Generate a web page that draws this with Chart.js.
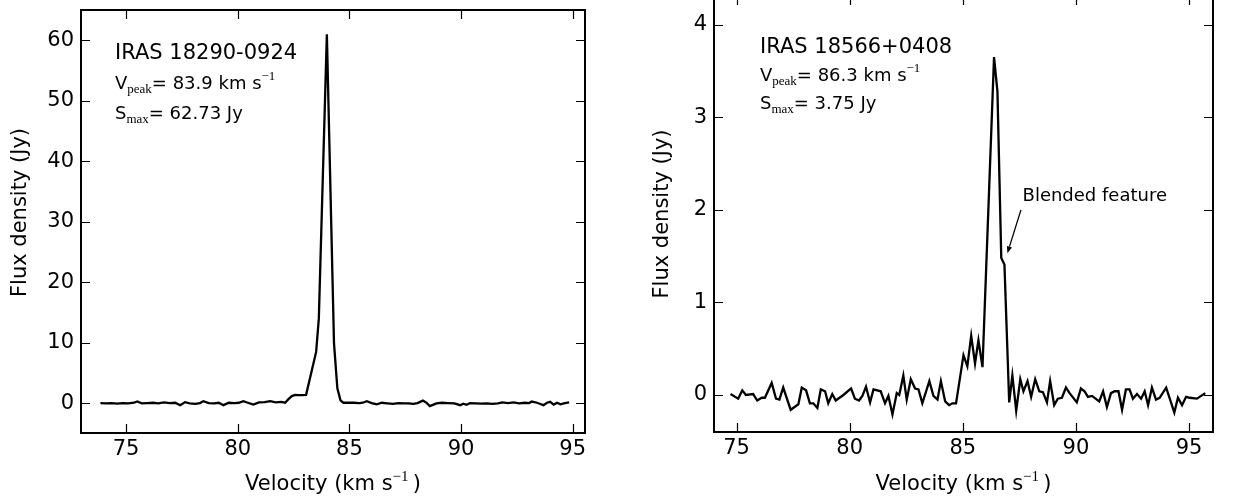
<!DOCTYPE html>
<html>
<head>
<meta charset="utf-8">
<script src="https://cdn.jsdelivr.net/npm/chart.js@4.4.1/dist/chart.umd.min.js"></script>
<style>
  html, body { margin: 0; padding: 0; background: #fff; }
  #wrap { position: relative; width: 1237px; height: 503px; overflow: hidden; }
  #leftChart { position: absolute; left: 0; top: 0; }
  #rightChart { position: absolute; left: 618px; top: -10px; }
</style>
</head>
<body>
<div id="wrap">
  <canvas id="leftChart" width="618" height="503"></canvas>
  <canvas id="rightChart" width="619" height="513"></canvas>
</div>
<script>
const velTicks = [75, 80, 85, 90, 95];
const leftFluxTicks = [0, 10, 20, 30, 40, 50, 60];
const rightFluxTicks = [0, 1, 2, 3, 4];

// IRAS 18290-0924
const leftVel = [
  73.85, 74.1, 74.35, 74.6, 74.85, 75.1, 75.35, 75.5, 75.7, 75.95,
  76.2, 76.45, 76.7, 76.95, 77.2, 77.42, 77.64, 77.85, 78.1, 78.3,
  78.46, 78.7, 78.95, 79.15, 79.36, 79.6, 79.85, 80.05, 80.25, 80.45,
  80.7, 80.95, 81.2, 81.45, 81.7, 81.95, 82.12, 82.27, 82.42, 82.57,
  82.72, 82.87, 83.06, 83.32, 83.51, 83.63, 83.99, 84.31, 84.46, 84.6,
  84.73, 84.95, 85.2, 85.45, 85.6, 85.78, 86.0, 86.23, 86.45, 86.7,
  86.95, 87.2, 87.45, 87.65, 87.86, 88.05, 88.29, 88.45, 88.6, 88.9,
  89.15, 89.4, 89.7, 89.96, 90.1, 90.25, 90.4, 90.65, 90.9, 91.15,
  91.4, 91.65, 91.85, 92.1, 92.35, 92.6, 92.85, 93.05, 93.17, 93.4,
  93.55, 93.69, 93.85, 93.99, 94.15, 94.3, 94.45, 94.6, 94.84
];
const leftFlux = [
  0.05, 0.0, 0.05, -0.05, 0.05, 0.0, 0.1, 0.3, 0.0, 0.05,
  0.1, 0.0, 0.15, 0.05, 0.1, -0.3, 0.2, 0.0, -0.1, 0.05,
  0.35, 0.05, 0.0, 0.1, -0.3, 0.1, 0.05, 0.1, 0.35, 0.1,
  -0.2, 0.15, 0.2, 0.35, 0.15, 0.25, 0.1, 0.7, 1.2, 1.4,
  1.35, 1.35, 1.4, 5.5, 8.5, 14.0, 61.0, 9.9, 2.5, 0.5,
  0.1, 0.1, 0.1, 0.05, 0.1, 0.35, 0.05, -0.15, 0.1, 0.0,
  -0.1, 0.05, 0.0, 0.0, -0.1, 0.05, 0.45, 0.1, -0.45, 0.0,
  0.1, 0.05, 0.0, -0.3, -0.05, -0.25, 0.05, 0.0, -0.05, 0.0,
  -0.1, 0.0, 0.15, 0.05, 0.15, 0.0, 0.1, 0.05, 0.3, 0.1,
  -0.1, -0.3, 0.1, 0.25, -0.2, 0.1, -0.15, 0.0, 0.15
];

// IRAS 18566+0408
const rightVel = [
  74.73, 75.07, 75.25, 75.41, 75.73, 75.91, 76.11, 76.25, 76.55, 76.74,
  76.89, 77.06, 77.39, 77.73, 77.88, 78.07, 78.24, 78.39, 78.57, 78.72,
  78.91, 79.05, 79.23, 79.38, 79.72, 80.06, 80.23, 80.41, 80.56, 80.72,
  80.9, 81.05, 81.37, 81.56, 81.71, 81.89, 82.08, 82.19, 82.37, 82.52,
  82.7, 82.89, 83.04, 83.21, 83.52, 83.7, 83.88, 84.03, 84.22, 84.39,
  84.54, 84.7, 85.03, 85.2, 85.37, 85.54, 85.69, 85.87, 86.38, 86.53,
  86.7, 86.84, 87.05, 87.19, 87.36, 87.54, 87.68, 87.86, 88.02, 88.2,
  88.38, 88.54, 88.72, 88.86, 89.04, 89.2, 89.38, 89.56, 89.72, 90.04,
  90.22, 90.38, 90.53, 90.71, 91.03, 91.2, 91.37, 91.55, 91.71, 91.88,
  92.04, 92.21, 92.37, 92.52, 92.7, 92.88, 93.04, 93.19, 93.36, 93.54,
  93.7, 93.99, 94.35, 94.51, 94.69, 94.87, 95.03, 95.35, 95.72
];
const rightFlux = [
  0.01, -0.04, 0.05, 0.0, 0.01, -0.06, -0.03, -0.03, 0.13, -0.04,
  -0.05, 0.08, -0.16, -0.1, 0.08, 0.05, -0.09, -0.09, -0.14, 0.06,
  0.04, -0.09, 0.01, -0.06, 0.0, 0.07, -0.04, -0.06, -0.01, 0.09,
  -0.08, 0.06, 0.04, -0.09, -0.01, -0.21, 0.02, 0.0, 0.21, -0.05,
  0.17, 0.07, 0.06, -0.09, 0.15, -0.01, -0.05, 0.15, -0.07, -0.11,
  -0.09, -0.09, 0.43, 0.31, 0.64, 0.34, 0.59, 0.3, 3.65, 3.28,
  1.48, 1.41, -0.08, 0.21, -0.17, 0.17, 0.04, 0.15, -0.02, 0.17,
  0.04, 0.03, -0.08, 0.15, -0.11, -0.04, -0.03, 0.08, 0.02, -0.08,
  0.07, 0.04, -0.02, -0.01, -0.07, 0.04, -0.13, 0.02, 0.04, 0.04,
  -0.16, 0.06, 0.06, -0.04, 0.01, -0.04, 0.04, -0.11, 0.08, -0.05,
  -0.03, 0.08, -0.19, -0.03, -0.11, -0.02, -0.03, -0.04, 0.02
];

const leftInfo = { name: 'IRAS 18290-0924', vpeak: '83.9', smax: '62.73' };
const rightInfo = { name: 'IRAS 18566+0408', vpeak: '86.3', smax: '3.75' };
const blendText = 'Blended feature';
const xTitle = ['Velocity (km s', '\u22121', '\u2009)'];
const yTitle = 'Flux density (Jy)';

const SANS = 'DejaVu Sans';
const SERIF = 'Liberation Serif';
Chart.defaults.font.family = SANS;
Chart.defaults.color = '#000';

function drawParts(ctx, x, y, parts) {
  parts.forEach(p => {
    ctx.font = p.font;
    ctx.fillText(p.text, x, y + (p.dy || 0));
    x += ctx.measureText(p.text).width;
  });
}

function partsWidth(ctx, parts) {
  return parts.reduce((w, p) => { ctx.font = p.font; return w + ctx.measureText(p.text).width; }, 0);
}

// box round the plot, inward ticks on all four sides, axis titles and the notes
const framePlugin = {
  id: 'frame',
  afterDatasetsDraw(chart, args, opts) {
    const { ctx, chartArea: a, scales: { x, y } } = chart;
    ctx.save();
    ctx.strokeStyle = '#000';
    ctx.fillStyle = '#000';
    ctx.lineWidth = 1.2;
    ctx.beginPath();
    x.ticks.forEach(t => {
      const px = Math.round(x.getPixelForValue(t.value)) + 0.5;
      ctx.moveTo(px, a.bottom); ctx.lineTo(px, a.bottom - 9);
      ctx.moveTo(px, a.top); ctx.lineTo(px, a.top + 9);
    });
    y.ticks.forEach(t => {
      const py = Math.round(y.getPixelForValue(t.value)) + 0.5;
      ctx.moveTo(a.left, py); ctx.lineTo(a.left + 9, py);
      ctx.moveTo(a.right, py); ctx.lineTo(a.right - 9, py);
    });
    ctx.stroke();
    ctx.lineWidth = 2;
    ctx.strokeRect(a.left, a.top, a.right - a.left, a.bottom - a.top);

    // axis titles
    ctx.textBaseline = 'middle';
    const xt = [
      { text: xTitle[0], font: `21px ${SANS}` },
      { text: xTitle[1], font: `15px ${SERIF}`, dy: -8 },
      { text: xTitle[2], font: `21px ${SANS}` }
    ];
    drawParts(ctx, (a.left + a.right) / 2 - partsWidth(ctx, xt) / 2, chart.height - 18, xt);
    ctx.save();
    ctx.translate(opts.yTitleX, (a.top + a.bottom) / 2 + opts.yTitleShift);
    ctx.rotate(-Math.PI / 2);
    ctx.textAlign = 'center';
    ctx.font = `21px ${SANS}`;
    ctx.fillText(yTitle, 0, 0);
    ctx.restore();

    const info = opts.info;
    const tx = a.left + opts.textX;
    ctx.textAlign = 'left';
    ctx.textBaseline = 'alphabetic';
    drawParts(ctx, tx, a.top + opts.lines[0], [{ text: info.name, font: `21px ${SANS}` }]);
    drawParts(ctx, tx, a.top + opts.lines[1], [
      { text: 'V', font: `18px ${SANS}` },
      { text: 'peak', font: `13px ${SERIF}`, dy: 4 },
      { text: `= ${info.vpeak} km s`, font: `18px ${SANS}` },
      { text: '\u22121', font: `13px ${SERIF}`, dy: -9 }
    ]);
    drawParts(ctx, tx, a.top + opts.lines[2], [
      { text: 'S', font: `18px ${SANS}` },
      { text: 'max', font: `13px ${SERIF}`, dy: 4 },
      { text: `= ${info.smax} Jy`, font: `18px ${SANS}` }
    ]);

    if (opts.arrow) {
      const ar = opts.arrow;
      const fx = x.getPixelForValue(ar.from[0]), fy = y.getPixelForValue(ar.from[1]);
      const hx = x.getPixelForValue(ar.to[0]), hy = y.getPixelForValue(ar.to[1]);
      const ang = Math.atan2(hy - fy, hx - fx);
      const hl = 7, hw = 2.6;
      const bx = hx - hl * Math.cos(ang), by = hy - hl * Math.sin(ang);
      ctx.lineWidth = 1.3;
      ctx.beginPath();
      ctx.moveTo(fx, fy); ctx.lineTo(bx, by);
      ctx.stroke();
      ctx.beginPath();
      ctx.moveTo(hx, hy);
      ctx.lineTo(bx + hw * Math.sin(ang), by - hw * Math.cos(ang));
      ctx.lineTo(bx - hw * Math.sin(ang), by + hw * Math.cos(ang));
      ctx.closePath();
      ctx.fill();
      ctx.font = `18px ${SANS}`;
      ctx.fillText(blendText, x.getPixelForValue(ar.text[0]), y.getPixelForValue(ar.text[1]));
    }
    ctx.restore();
  }
};

function makeChart(id, vel, flux, yTicks, xr, yr, pad, yWidth, xHeight, note) {
  return new Chart(document.getElementById(id), {
    type: 'line',
    data: {
      datasets: [{
        data: vel.map((v, i) => ({ x: v, y: flux[i] })),
        borderColor: '#000',
        borderWidth: 2.3,
        pointRadius: 0,
        tension: 0,
        fill: false
      }]
    },
    options: {
      responsive: false,
      animation: false,
      layout: { padding: pad },
      plugins: { legend: { display: false }, tooltip: { enabled: false }, frame: note },
      scales: {
        x: {
          type: 'linear', min: xr[0], max: xr[1],
          grid: { display: false, drawTicks: false },
          border: { display: false },
          afterBuildTicks: s => { s.ticks = velTicks.map(v => ({ value: v })); },
          afterFit: s => { s.height = xHeight; s.paddingLeft = 0; s.paddingRight = 0; },
          ticks: { padding: 4, color: '#000', font: { size: 21 } }
        },
        y: {
          type: 'linear', min: yr[0], max: yr[1],
          grid: { display: false, drawTicks: false },
          border: { display: false },
          afterBuildTicks: s => { s.ticks = yTicks.map(v => ({ value: v })); },
          afterFit: s => { s.width = yWidth; s.paddingTop = 0; s.paddingBottom = 0; },
          ticks: { padding: 7, color: '#000', font: { size: 21 } }
        }
      }
    },
    plugins: [framePlugin]
  });
}

makeChart('leftChart', leftVel, leftFlux, leftFluxTicks, [72.98, 95.55], [-4.9, 65],
  { left: 0, right: 33, top: 10, bottom: 0 }, 81, 70,
  { info: leftInfo, textX: 34, lines: [49, 79, 109], yTitleX: 21, yTitleShift: -9 });

makeChart('rightChart', rightVel, rightFlux, rightFluxTicks, [74.0, 96.06], [-0.4, 4.31],
  { left: 0, right: 24, top: 6, bottom: 0 }, 96, 71,
  { info: rightInfo, textX: 46, lines: [57, 85, 113], yTitleX: 45, yTitleShift: 0,
    arrow: { from: [87.57, 2.0], to: [86.97, 1.53], text: [87.64, 2.097] } });
</script>
</body>
</html>
